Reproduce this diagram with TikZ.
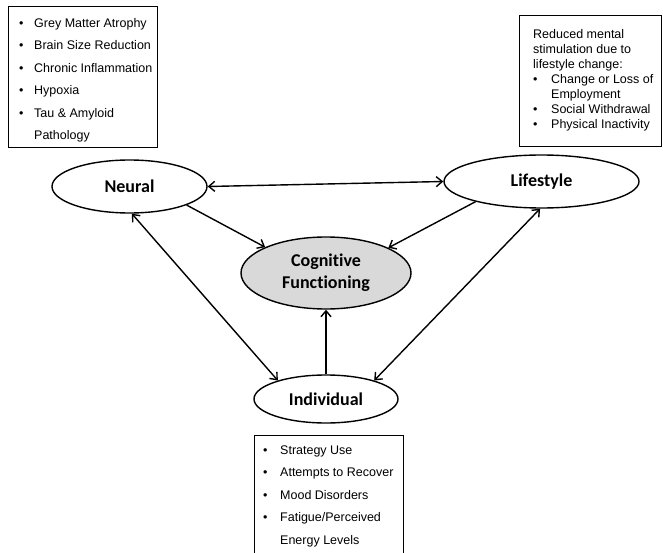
\documentclass[tikz,border=0pt]{standalone}
\usepackage{fontspec}
\setmainfont{Liberation Sans}
\newfontfamily\calibri[Ligatures=NoCommon]{Carlito}
\usetikzlibrary{shapes.geometric,arrows.meta}
\definecolor{cogfill}{HTML}{D9D9D9}
\newcommand{\bl}[1][15pt]{\makebox[#1][l]{•}}
\begin{document}
\begin{tikzpicture}[x=1pt,y=-1pt,
  oval/.style={ellipse, draw, line width=1.4pt, inner sep=0pt, font=\calibri\bfseries\fontsize{18}{22}\selectfont, align=center},
  infobox/.style={draw, line width=1.3pt, inner sep=0pt, anchor=north west},
  listtext/.style={inner sep=0pt, anchor=north west, align=left, font=\fontsize{12.5}{22.5}\selectfont},
  link/.style={line width=1.4pt, -{Straight Barb[length=6pt,width=10pt]}},
  both/.style={line width=1.4pt, {Straight Barb[length=6pt,width=10pt]}-{Straight Barb[length=6pt,width=10pt]}}
]
\path[use as bounding box] (0,0) rectangle (663,553);

% ovals
\node[oval, minimum width=155pt, minimum height=53pt] (neural) at (129.5,186.5) {Neural};
\node[oval, minimum width=195pt, minimum height=53pt] (life) at (541.5,181.5) {Lifestyle};
\node[oval, fill=cogfill, minimum width=170pt, minimum height=72pt] (cog) at (326,273) {Cognitive\\Functioning};
\node[oval, minimum width=144pt, minimum height=48pt] (ind) at (326,399) {Individual};

% boxes
\node[infobox, minimum width=149pt, minimum height=141pt] (nbox) at (8,6) {};
\node[listtext] (ntext) at (19,18) {\bl Grey Matter Atrophy\\\bl Brain Size Reduction\\\bl Chronic Inflammation\\\bl Hypoxia\\\bl Tau \& Amyloid\\\hspace*{15pt}Pathology};

\node[infobox, minimum width=142pt, minimum height=131pt] (lbox) at (519,15) {};
\node[listtext, font=\fontsize{12.5}{15}\selectfont] (ltext) at (533,29.5) {Reduced mental\\stimulation due to\\lifestyle change:\\\bl[18pt]Change or Loss of\\\hspace*{18pt}Employment\\\bl[18pt]Social Withdrawal\\\bl[18pt]Physical Inactivity};

\node[infobox, minimum width=149pt, minimum height=125pt] (ibox) at (254,435) {};
\node[listtext] (itext) at (263,445.5) {\bl[17pt]Strategy Use\\\bl[17pt]Attempts to Recover\\\bl[17pt]Mood Disorders\\\bl[17pt]Fatigue/Perceived\\\hspace*{17pt}Energy Levels};

% connectors
\draw[both] (neural.east) -- (life.west);
\draw[link] (neural.-18.4) -- (cog.157.9);
\draw[link] (life.-163.6) -- (cog.22.6);
\draw[link] (ind) -- (cog);
\draw[both] (ind.159) -- (neural.-85);
\draw[both] (ind.21) -- (life.-93);
\end{tikzpicture}
\end{document}
